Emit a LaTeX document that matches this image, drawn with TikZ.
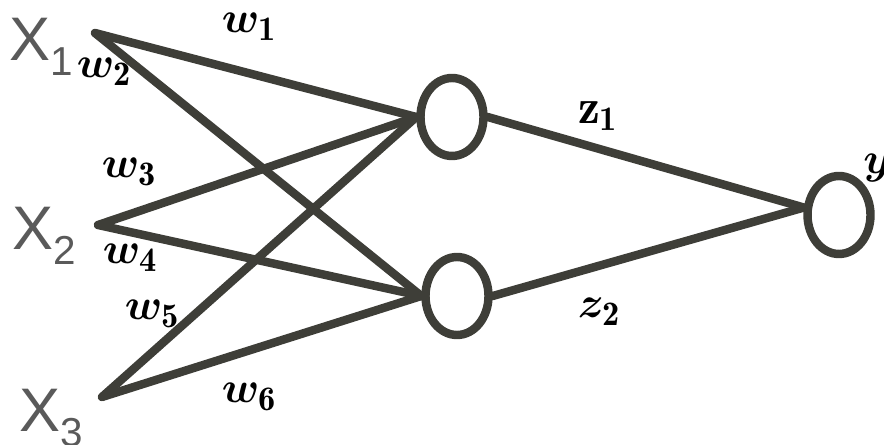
\documentclass[tikz,border=0pt]{standalone}
\usepackage{amsmath,bm}
\usepackage{fontspec}
\newfontfamily\entradafont{Liberation Sans}
\usetikzlibrary{shapes.geometric}
\definecolor{trazo}{RGB}{62,62,56}
\definecolor{rotulo}{RGB}{90,90,90}

\begin{document}
\begin{tikzpicture}[x=0.02cm,y=-0.02cm,
    neurona/.style={ellipse,draw=trazo,line width=4.8pt,
        minimum width=1.26cm,minimum height=1.56cm,inner sep=0pt},
    enlace/.style={draw=trazo,line width=4.8pt,line cap=round},
    peso/.style={font=\fontsize{28}{32}\selectfont,inner sep=0pt},
    entrada/.style={font=\entradafont\fontsize{35}{40}\selectfont,
        text=rotulo,inner sep=0pt}]
    \useasboundingbox (0,0) rectangle (884,445);

    % Rótulos de entrada y extremos de las conexiones.
    \foreach \i/\xx/\yy in {1/41/47,2/44/236,3/51/418}{
        \node[entrada] (X\i) at (\xx,\yy)
            {X\raisebox{-8.5pt}{\fontsize{23}{23}\selectfont\i}};
    }
    \coordinate (e1) at (95,33);
    \coordinate (e2) at (98,225);
    \coordinate (e3) at (102,397);

    % Neuronas oculta y de salida.
    \node[neurona] (h1) at (452,117) {};
    \node[neurona] (h2) at (457,296) {};
    \node[neurona] (o) at (839,215) {};

    % Conexiones.
    \foreach \i in {1,2,3}{
        \draw[enlace] (e\i) -- (h1.west);
        \draw[enlace] (e\i) -- (h2.west);
    }
    \draw[enlace] (h1.east) -- (o.168);
    \draw[enlace] (h2.east) -- (o.168);

    % Pesos.
    \foreach \n/\xx/\yy in {1/249/27,2/104/72,3/129/172,4/130/258,5/152/314,6/249/397}{
        \node[peso] (w\n) at (\xx,\yy) {$\boldsymbol{w}_{\mathbf{\n}}$};
    }
    \node[peso] (z1) at (598,116) {$\mathbf{z}_{\mathbf{1}}$};
    \node[peso] (z2) at (599,312) {$\boldsymbol{z}_{\mathbf{2}}$};
    \node[peso] (y) at (877,168) {$\boldsymbol{y}$};
\end{tikzpicture}
\end{document}
